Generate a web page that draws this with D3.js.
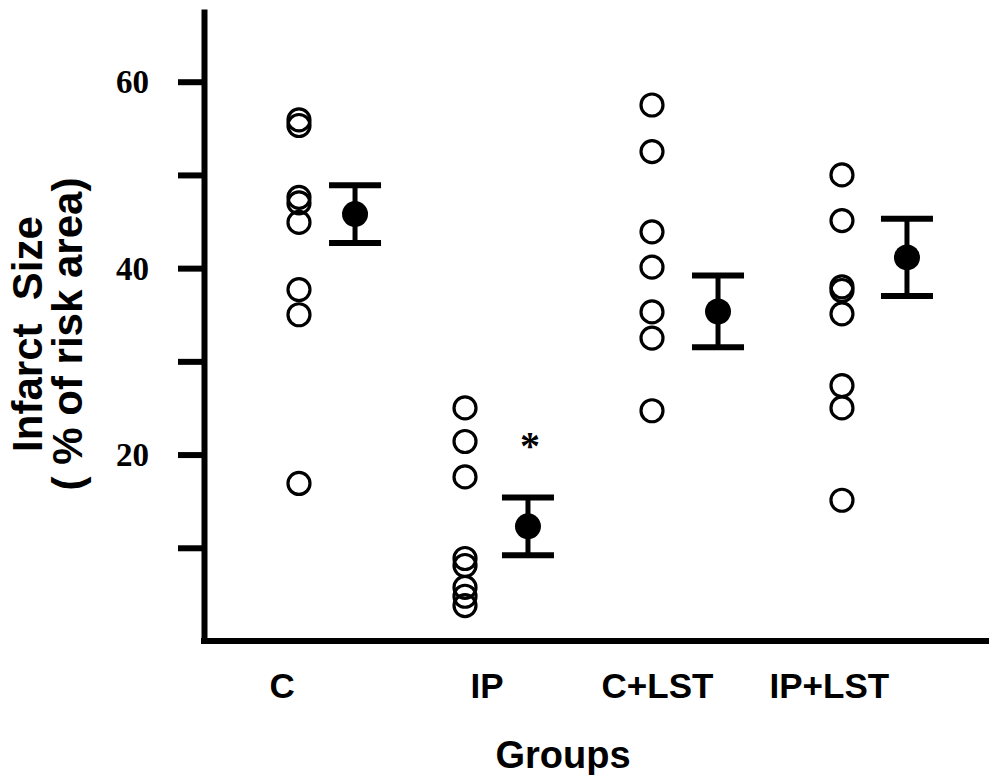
<!DOCTYPE html>
<html>
<head>
<meta charset="utf-8">
<script src="https://cdn.jsdelivr.net/npm/d3@7/dist/d3.min.js"></script>
<style>
  html, body { margin: 0; padding: 0; background: #fff; }
  svg { display: block; }
</style>
</head>
<body>
<svg id="chart" width="989" height="775"></svg>
<script>
// Group names (x-axis categories)
const groups = ["C", "IP", "C+LST", "IP+LST"];

// Individual infarct sizes (% of risk area) per group
const valuesC     = [55.9, 55.3, 47.6, 47.0, 44.9, 37.7, 35.0, 16.9];
const valuesIP    = [25.0, 21.4, 17.6, 8.85, 8.1, 5.75, 4.8, 3.8];
const valuesCLST  = [57.5, 52.5, 43.9, 40.1, 35.3, 32.5, 24.7];
const valuesIPLST = [50.0, 45.1, 38.0, 37.6, 35.1, 27.4, 25.0, 15.1];

// Group means and standard errors
const means = [45.8, 12.3, 35.35, 41.15];
const sems  = [3.1, 3.1, 3.85, 4.15];

// Significance marker (group index)
const significant = [1];

// Y-axis ticks
const yTicks = [10, 20, 30, 40, 50, 60];
const yTickLabels = [20, 40, 60];

// Horizontal layout in x-units (0..10 across the plot)
const layout = {
  dotSlot:   [1.21, 3.325, 5.707, 8.127],
  meanSlot:  [1.924, 4.127, 6.548, 8.955],
  labelSlot: [0.99, 3.6, 5.77, 7.96]
};

const svg = d3.select("#chart");

const x = d3.scaleLinear().domain([0, 10]).range([204, 989]);
const y = d3.scaleLinear().domain([0, 67.8]).range([641, 9]);

const ink = "#000";

// Y axis with ticks on the outside
const yAxis = d3.axisLeft(y)
  .tickValues(yTicks)
  .tickSize(26)
  .tickSizeOuter(0)
  .tickFormat(d => yTickLabels.includes(d) ? d : "");

const gy = svg.append("g")
  .attr("transform", `translate(${x(0)},0)`)
  .call(yAxis);

gy.select(".domain").attr("stroke", ink).attr("stroke-width", 6);
gy.selectAll(".tick line").attr("stroke", ink).attr("stroke-width", 6);
gy.selectAll(".tick text")
  .attr("x", -55)
  .attr("dy", 11)
  .attr("fill", ink)
  .attr("font-family", "'Liberation Serif', 'Times New Roman', serif")
  .attr("font-weight", "bold")
  .attr("font-size", 33)
  .attr("text-anchor", "end");

// X axis baseline
svg.append("line")
  .attr("x1", x(0) - 3).attr("x2", x(10))
  .attr("y1", y(0)).attr("y2", y(0))
  .attr("stroke", ink).attr("stroke-width", 6);

// Category labels
const xAxis = d3.axisBottom(x)
  .tickValues(layout.labelSlot)
  .tickSize(0)
  .tickFormat((d, i) => groups[i]);

const gx = svg.append("g")
  .attr("transform", `translate(0,${y(0)})`)
  .call(xAxis);
gx.select(".domain").remove();
gx.selectAll(".tick text")
  .attr("y", 57)
  .attr("dy", 0)
  .attr("fill", ink)
  .attr("font-family", "'Liberation Sans', Arial, sans-serif")
  .attr("font-weight", "bold")
  .attr("font-size", 35);

// Axis titles
svg.append("text")
  .attr("x", 563).attr("y", 768)
  .attr("text-anchor", "middle")
  .attr("font-family", "'Liberation Sans', Arial, sans-serif")
  .attr("font-weight", "bold")
  .attr("font-size", 38)
  .attr("fill", ink)
  .text("Groups");

const yTitle = svg.append("text")
  .attr("transform", "translate(42,334) rotate(-90)")
  .attr("text-anchor", "middle")
  .attr("font-family", "'Liberation Sans', Arial, sans-serif")
  .attr("font-weight", "bold")
  .attr("font-size", 42)
  .attr("fill", ink);
yTitle.append("tspan").attr("x", 0).attr("y", 0).attr("xml:space", "preserve").text("Infarct  Size");
yTitle.append("tspan").attr("x", 0).attr("y", 40).text("( % of risk area)");

// Individual values as open circles
const series = [valuesC, valuesIP, valuesCLST, valuesIPLST];
series.forEach((vals, gi) => {
  svg.append("g")
    .selectAll("circle")
    .data(vals)
    .join("circle")
    .attr("cx", x(layout.dotSlot[gi]))
    .attr("cy", d => y(d))
    .attr("r", 11)
    .attr("fill", "none")
    .attr("stroke", ink)
    .attr("stroke-width", 3.2);
});

// Mean ± SEM
const capHalf = 26;
const summary = svg.append("g");
means.forEach((m, i) => {
  const cx = x(layout.meanSlot[i]);
  const hi = y(m + sems[i]);
  const lo = y(m - sems[i]);
  summary.append("line")
    .attr("x1", cx).attr("x2", cx).attr("y1", hi).attr("y2", lo)
    .attr("stroke", ink).attr("stroke-width", 5);
  [hi, lo].forEach(cy => {
    summary.append("line")
      .attr("x1", cx - capHalf).attr("x2", cx + capHalf)
      .attr("y1", cy).attr("y2", cy)
      .attr("stroke", ink).attr("stroke-width", 6);
  });
  summary.append("circle")
    .attr("cx", cx).attr("cy", y(m)).attr("r", 13)
    .attr("fill", ink);
});

// Significance asterisk
significant.forEach(i => {
  svg.append("text")
    .attr("x", x(layout.meanSlot[i]) + 2)
    .attr("y", y(means[i] + sems[i]) - 38)
    .attr("text-anchor", "middle")
    .attr("font-family", "'Liberation Serif', 'Times New Roman', serif")
    .attr("font-weight", "bold")
    .attr("font-size", 40)
    .attr("fill", ink)
    .text("*");
});
</script>
</body>
</html>
